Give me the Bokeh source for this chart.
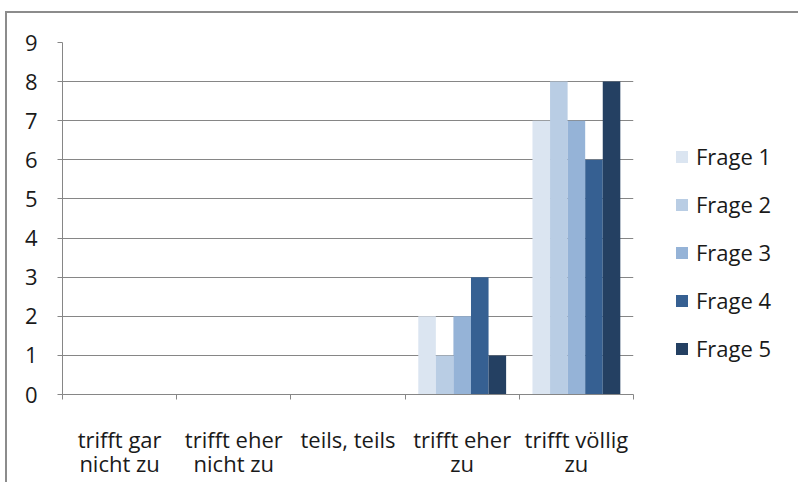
from bokeh.plotting import figure
from bokeh.models import Range1d, FixedTicker, Legend, LegendItem, ColumnDataSource
from bokeh.embed import file_html
from bokeh.resources import INLINE

categories = ["trifft gar\nnicht zu", "trifft eher\nnicht zu", "teils, teils", "trifft eher\nzu", "trifft völlig\nzu"]
series_names = ["Frage 1", "Frage 2", "Frage 3", "Frage 4", "Frage 5"]
frage1 = [0, 0, 0, 2, 7]
frage2 = [0, 0, 0, 1, 8]
frage3 = [0, 0, 0, 2, 7]
frage4 = [0, 0, 0, 3, 6]
frage5 = [0, 0, 0, 1, 8]
colors = ["#dbe5f1", "#b9cde4", "#95b3d7", "#366092", "#244062"]
y_ticks = list(range(0, 10))

series = [frage1, frage2, frage3, frage4, frage5]

FONT = "Open Sans"
GRID = "#868686"
TXT = "#1a1a1a"

p = figure(output_backend="svg", toolbar_location=None,
           x_range=Range1d(0, 5), y_range=Range1d(0, 9),
           frame_width=571, frame_height=352,
           min_border_left=55, min_border_top=29, min_border_bottom=88, min_border_right=160)

n = len(series)
bar_w = 1.0 / (n + 1.5)
legend_items = []
for k, (vals, name, col) in enumerate(zip(series, series_names, colors)):
    xs = [i + 0.75 * bar_w + (k + 0.5) * bar_w for i in range(len(categories))]
    src = ColumnDataSource(dict(x=xs, top=vals))
    r = p.vbar(x="x", top="top", bottom=0, width=bar_w, source=src,
               fill_color=col, line_color=None)
    legend_items.append(LegendItem(label=name, renderers=[r]))

p.xgrid.visible = False
p.ygrid.ticker = FixedTicker(ticks=y_ticks)
p.ygrid.grid_line_color = GRID
p.ygrid.grid_line_width = 1

p.yaxis.ticker = FixedTicker(ticks=y_ticks)
p.yaxis.axis_line_color = GRID
p.yaxis.major_tick_line_color = GRID
p.yaxis.major_tick_in = 0
p.yaxis.major_tick_out = 5
p.yaxis.minor_tick_line_color = None
p.yaxis.major_label_standoff = 20
p.yaxis.major_label_text_font = FONT
p.yaxis.major_label_text_font_size = "22px"
p.yaxis.major_label_text_color = TXT

centers = [i + 0.5 for i in range(len(categories))]
p.xaxis.ticker = FixedTicker(ticks=centers, minor_ticks=list(range(len(categories) + 1)))
p.xaxis.major_label_overrides = {c: lab for c, lab in zip(centers, categories)}
p.xaxis.axis_line_color = GRID
p.xaxis.major_tick_line_color = None
p.xaxis.minor_tick_line_color = GRID
p.xaxis.minor_tick_in = 0
p.xaxis.minor_tick_out = 5
p.xaxis.major_label_standoff = 23
p.xaxis.major_label_text_font = FONT
p.xaxis.major_label_text_font_size = "22px"
p.xaxis.major_label_text_color = TXT
p.xaxis.major_label_text_line_height = 0.83

p.outline_line_color = None

legend = Legend(items=legend_items, location=(41, 31), spacing=18,
                glyph_width=15, glyph_height=15, label_standoff=7,
                label_text_font=FONT, label_text_font_size="22px",
                label_text_color=TXT, border_line_color=None,
                background_fill_alpha=0, padding=0, margin=0)
p.add_layout(legend, "right")

p.styles = {"margin-left": "5px", "margin-top": "11px",
            "border-left": "2px solid #8c8c8c", "border-top": "2px solid #8c8c8c"}

open("out.html", "w").write(file_html(p, INLINE))
